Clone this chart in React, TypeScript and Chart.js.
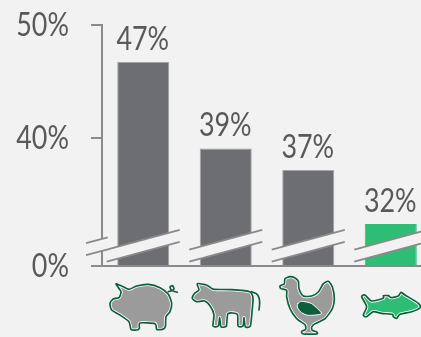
import React, { useEffect, useRef } from "react";
import { Chart, registerables, LinearScale } from "chart.js";

Chart.register(...registerables);

const categories = ["Pork", "Beef", "Chicken", "Fish"];
const shares = [47, 39, 37, 32];
const tickValues = [0, 40, 50];

const PAGE = "#f2f2f2";
const AXIS = "#8a8a8c";
const BAR = "#6d6e71";
const HIGHLIGHT = "#2dbd74";
const TEXT = "#58595b";
const ICON_LINE = "#0b5f3a";
const ICON_GREY = "#9b9b9b";
const FONT = "Lato, sans-serif";
const FONT_SIZE = 32;
const TEXT_NARROWING = 0.84;

// The axis is interrupted below 32%: each stop pairs a value with its share of the plot height.
const axisStops: [number, number][] = [
  [0, 0],
  [32, 0.1743],
  [47, 0.8465],
  [50, 1],
];

class BrokenScale extends LinearScale {
  static id = "broken";
  static defaults = LinearScale.defaults;
  getPixelForValue(value: number) {
    let f = 0;
    for (let i = 1; i < axisStops.length; i++) {
      const [v0, f0] = axisStops[i - 1];
      const [v1, f1] = axisStops[i];
      if (value <= v1 || i === axisStops.length - 1) {
        f = f0 + ((value - v0) / (v1 - v0)) * (f1 - f0);
        break;
      }
    }
    return this.bottom - f * (this.bottom - this.top);
  }
  // Tick labels are right-aligned, so they are narrowed about their right edge.
  drawLabels(area: any) {
    const anchor = this.right - this.options.grid.tickLength - this.options.ticks.padding;
    const ctx = this.ctx;
    ctx.save();
    ctx.translate(anchor, 1);
    ctx.scale(TEXT_NARROWING, 1);
    ctx.translate(-anchor, 0);
    super.drawLabels(area);
    ctx.restore();
  }
}
Chart.register(BrokenScale);

type Pt = [number, number];

// Animal outlines, in units of a third of a pixel.
const pig: Pt[] = [[33,27],[50,33],[72,43],[95,33],[130,28],[165,38],[190,58],[200,85],[195,110],[183,125],[181,155],[172,163],[155,163],[150,146],[105,144],[103,160],[95,165],[78,163],[72,140],[45,120],[20,105],[15,85],[25,72],[42,68],[48,50]];
const pigTail: Pt[] = [[190,50],[200,47],[207,42],[203,32],[195,36],[200,46],[217,52]];
const cow: Pt[] = [[28,26],[55,30],[65,36],[78,43],[130,44],[185,50],[195,70],[192,110],[187,153],[172,155],[168,128],[165,153],[150,153],[148,118],[120,116],[115,153],[99,155],[95,128],[91,153],[75,153],[78,120],[68,95],[50,78],[25,80],[13,70],[20,55],[33,45]];
const cowTail: Pt[] = [[190,50],[205,56],[213,68],[215,85],[213,105]];
const hen: Pt[] = [[30,20],[45,14],[60,18],[70,28],[72,50],[85,72],[110,72],[130,60],[145,35],[160,28],[172,45],[178,80],[172,110],[150,140],[120,155],[110,165],[112,175],[125,180],[125,186],[85,186],[80,178],[92,172],[90,158],[65,140],[45,110],[35,75],[35,55],[18,50],[15,42],[28,35]];
const henWing: Pt[] = [[68,95],[80,88],[110,95],[140,125],[100,130],[80,122],[68,108]];
const fish: Pt[] = [[20,35],[30,30],[50,48],[85,40],[85,32],[100,32],[108,38],[130,33],[138,22],[150,30],[190,55],[195,68],[170,80],[135,88],[125,100],[115,95],[112,88],[80,85],[55,80],[35,95],[25,90],[35,65]];

// Curve through the listed points, with short handles so corners stay fairly crisp.
const smooth = (pts: Pt[], closed: boolean) => {
  const p = new Path2D();
  const n = pts.length;
  const at = (i: number) => (closed ? pts[(i + n) % n] : pts[Math.max(0, Math.min(n - 1, i))]);
  const k = 0.11;
  p.moveTo(pts[0][0], pts[0][1]);
  const segments = closed ? n : n - 1;
  for (let i = 0; i < segments; i++) {
    const a = at(i - 1);
    const b = at(i);
    const c = at(i + 1);
    const d = at(i + 2);
    p.bezierCurveTo(
      b[0] + (c[0] - a[0]) * k,
      b[1] + (c[1] - a[1]) * k,
      c[0] - (d[0] - b[0]) * k,
      c[1] - (d[1] - b[1]) * k,
      c[0],
      c[1]
    );
  }
  if (closed) p.closePath();
  return p;
};

const icons = [
  { body: pig, extra: pigTail, wing: null, fill: ICON_GREY, x: 105, y: 275 },
  { body: cow, extra: cowTail, wing: null, fill: ICON_GREY, x: 188, y: 275 },
  { body: hen, extra: null, wing: henWing, fill: ICON_GREY, x: 275, y: 272 },
  { body: fish, extra: null, wing: null, fill: HIGHLIGHT, x: 355, y: 285 },
];

const annotations = {
  id: "annotations",
  afterDraw(chart: any) {
    const { ctx } = chart;
    const meta = chart.getDatasetMeta(0);
    const base = chart.scales.y.bottom;
    const slope = -0.27;
    const half = 36.5;

    ctx.save();
    // Slanted gaps across every bar and across the value axis
    const band = (x0: number, x1: number, cx: number, upperOff: number, lowerOff: number) => {
      const yAt = (x: number, off: number) => base - off + (x - cx) * slope;
      ctx.fillStyle = PAGE;
      ctx.beginPath();
      ctx.moveTo(x0, yAt(x0, upperOff));
      ctx.lineTo(x1, yAt(x1, upperOff));
      ctx.lineTo(x1, yAt(x1, lowerOff));
      ctx.lineTo(x0, yAt(x0, lowerOff));
      ctx.closePath();
      ctx.fill();
      ctx.strokeStyle = AXIS;
      ctx.lineWidth = 1.8;
      ctx.beginPath();
      ctx.moveTo(x0, yAt(x0, upperOff));
      ctx.lineTo(x1, yAt(x1, upperOff));
      ctx.moveTo(x0, yAt(x0, lowerOff));
      ctx.lineTo(x1, yAt(x1, lowerOff));
      ctx.stroke();
    };
    meta.data.forEach((bar: any) => {
      band(bar.x - half, bar.x + half, bar.x, 26.3, 14.3);
    });
    const first = meta.data[0].x;
    band(86, first - half + 1, first, 38.3, 26.3);

    // Value above each bar
    ctx.font = `${FONT_SIZE}px ${FONT}`;
    ctx.fillStyle = TEXT;
    ctx.textAlign = "center";
    ctx.textBaseline = "alphabetic";
    meta.data.forEach((bar: any, i: number) => {
      ctx.save();
      ctx.translate(bar.x - 0.5, bar.y - 12);
      ctx.scale(TEXT_NARROWING, 1);
      ctx.fillText(`${shares[i]}%`, 0, 0);
      ctx.restore();
    });

    // Animal pictograms under the axis
    icons.forEach((ic) => {
      ctx.save();
      ctx.translate(ic.x, ic.y);
      ctx.scale(1 / 3, 1 / 3);
      const body = smooth(ic.body, true);
      ctx.lineJoin = "round";
      ctx.lineCap = "round";
      ctx.fillStyle = ic.fill;
      ctx.fill(body);
      ctx.save();
      ctx.clip(body);
      ctx.strokeStyle = "#ffffff";
      ctx.lineWidth = 10;
      ctx.stroke(body);
      ctx.restore();
      ctx.strokeStyle = ICON_LINE;
      ctx.lineWidth = 5;
      ctx.stroke(body);
      if (ic.extra) ctx.stroke(smooth(ic.extra, false));
      if (ic.wing) {
        const wing = smooth(ic.wing, true);
        ctx.fillStyle = ICON_LINE;
        ctx.fill(wing);
        ctx.strokeStyle = "#ffffff";
        ctx.lineWidth = 3;
        ctx.stroke(wing);
      }
      ctx.restore();
    });
    ctx.restore();
  },
};

export default function App() {
  const ref = useRef<HTMLCanvasElement>(null);
  useEffect(() => {
    const chart = new Chart(ref.current!, {
      type: "bar",
      data: {
        labels: categories,
        datasets: [
          {
            data: shares,
            backgroundColor: [BAR, BAR, BAR, HIGHLIGHT],
            borderColor: ["#a4a4a6", "#a4a4a6", "#a4a4a6", HIGHLIGHT],
            borderWidth: 1,
            barPercentage: 0.631,
            categoryPercentage: 1,
          },
        ],
      },
      options: {
        responsive: false,
        animation: false,
        layout: { padding: { top: 25, bottom: 71, left: 0, right: 0 } },
        plugins: { legend: { display: false }, tooltip: { enabled: false } },
        scales: {
          x: {
            grid: { display: false },
            ticks: { display: false },
            border: { color: AXIS, width: 2, z: 1 },
            afterFit(s: any) {
              s.height = 0;
            },
          },
          y: {
            type: "broken" as any,
            min: 0,
            max: 50,
            afterBuildTicks(s: any) {
              s.ticks = tickValues.map((value) => ({ value }));
            },
            afterFit(s: any) {
              s.width = 102;
              s.paddingTop = 0;
              s.paddingBottom = 0;
            },
            grid: { drawOnChartArea: false, drawTicks: true, tickLength: 11, color: AXIS, lineWidth: 2 },
            border: { color: AXIS, width: 2, z: 1 },
            ticks: {
              padding: 22,
              color: TEXT,
              font: { family: FONT, size: FONT_SIZE },
              callback: (v: any) => `${v}%`,
            },
          },
        },
      },
      plugins: [annotations],
    });
    return () => chart.destroy();
  }, []);
  return (
    <div style={{ position: "fixed", left: 0, top: 0, width: 421, height: 337, overflow: "hidden", background: PAGE }}>
      <canvas ref={ref} width={432} height={337} style={{ display: "block" }} />
    </div>
  );
}
